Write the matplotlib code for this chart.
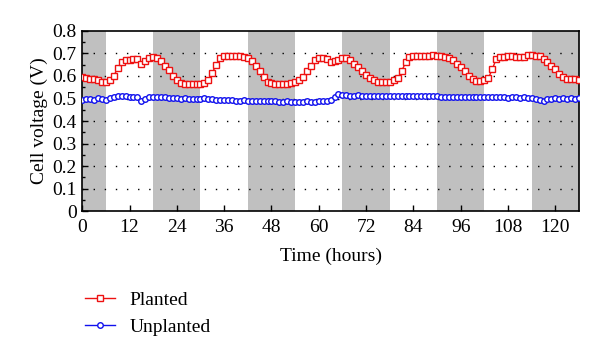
import matplotlib.pyplot as plt
import numpy as np

hours = np.arange(0, 127)

planted = [
    0.595, 0.59, 0.585, 0.585, 0.58, 0.575, 0.575, 0.58, 0.60, 0.635,
    0.66, 0.67, 0.672, 0.675, 0.675, 0.655, 0.665, 0.68, 0.685, 0.68,
    0.665, 0.645, 0.625, 0.60, 0.58, 0.57, 0.565, 0.565, 0.565, 0.565,
    0.565, 0.57, 0.58, 0.615, 0.65, 0.68, 0.69, 0.69, 0.688, 0.688,
    0.688, 0.685, 0.68, 0.665, 0.645, 0.62, 0.595, 0.575, 0.57, 0.565,
    0.565, 0.565, 0.565, 0.57, 0.575, 0.58, 0.595, 0.62, 0.645, 0.67,
    0.68, 0.68, 0.675, 0.66, 0.665, 0.672, 0.68, 0.678, 0.67, 0.655,
    0.64, 0.62, 0.605, 0.59, 0.58, 0.575, 0.575, 0.575, 0.575, 0.58,
    0.59, 0.62, 0.66, 0.685, 0.69, 0.688, 0.69, 0.69, 0.69, 0.692,
    0.69, 0.688, 0.685, 0.68, 0.67, 0.655, 0.64, 0.62, 0.60, 0.585,
    0.578, 0.578, 0.58, 0.59, 0.63, 0.675, 0.685, 0.685, 0.688, 0.688,
    0.685, 0.685, 0.685, 0.695, 0.695, 0.69, 0.688, 0.675, 0.66, 0.645,
    0.63, 0.61, 0.595, 0.588, 0.585, 0.585, 0.583,
]

unplanted = [
    0.495, 0.497, 0.50, 0.495, 0.502, 0.497, 0.495, 0.503, 0.507, 0.51,
    0.512, 0.51, 0.508, 0.508, 0.508, 0.487, 0.497, 0.505, 0.507, 0.505,
    0.505, 0.505, 0.503, 0.503, 0.502, 0.50, 0.503, 0.498, 0.498, 0.50,
    0.497, 0.502, 0.498, 0.497, 0.495, 0.495, 0.494, 0.493, 0.495, 0.49,
    0.49, 0.492, 0.49, 0.488, 0.49, 0.49, 0.487, 0.49, 0.49, 0.488,
    0.485, 0.485, 0.487, 0.485, 0.483, 0.485, 0.485, 0.487, 0.485, 0.483,
    0.487, 0.49, 0.49, 0.495, 0.505, 0.518, 0.515, 0.515, 0.513, 0.513,
    0.515, 0.512, 0.51, 0.513, 0.512, 0.512, 0.51, 0.51, 0.512, 0.513,
    0.51, 0.512, 0.51, 0.512, 0.513, 0.51, 0.51, 0.51, 0.51, 0.51,
    0.51, 0.508, 0.508, 0.508, 0.508, 0.508, 0.508, 0.508, 0.508, 0.508,
    0.508, 0.505, 0.508, 0.508, 0.505, 0.507, 0.505, 0.505, 0.503, 0.505,
    0.505, 0.503, 0.505, 0.502, 0.503, 0.50, 0.495, 0.49, 0.497, 0.50,
    0.502, 0.50, 0.502, 0.50, 0.503, 0.50, 0.502,
]

# dark periods (start, end) in hours
dark = [(0, 6), (18, 30), (42, 54), (66, 78), (90, 102), (114, 126)]

xticks = [0, 12, 24, 36, 48, 60, 72, 84, 96, 108, 120]
yticks = [0, 0.1, 0.2, 0.3, 0.4, 0.5, 0.6, 0.7, 0.8]

plt.rcParams['font.family'] = ['Liberation Serif', 'DejaVu Serif']
plt.rcParams['font.size'] = 14

fig = plt.figure(figsize=(6, 3.64), dpi=100)
ax = fig.add_axes([0.137, 0.42, 0.828, 0.495])

for s, e in dark:
    ax.axvspan(s, e, color='#c0c0c0', lw=0, zorder=0)

for y in yticks[1:-1]:
    ax.axhline(y, color='black', lw=1.0, ls=(0, (1, 7)), zorder=1)

ax.plot(hours, planted, color='#ee1111', marker='s', ms=4, mfc='white',
        mec='#ee1111', mew=1.0, lw=1, label='Planted', zorder=3)
ax.plot(hours, unplanted, color='#1111ee', marker='o', ms=4, mfc='white',
        mec='#1111ee', mew=1.0, lw=1, label='Unplanted', zorder=3)

ax.set_xlim(0, 126)
ax.set_ylim(0, 0.8)
ax.set_xticks(xticks)
ax.set_xticklabels([str(t) for t in xticks])
ax.set_yticks(yticks)
ax.set_yticklabels(['0'] + ['%.1f' % y for y in yticks[1:]])
ax.set_yticks(np.arange(0.05, 0.8, 0.1), minor=True)
ax.tick_params(direction='in', length=4, width=1)
ax.tick_params(axis='x', pad=6)
ax.tick_params(axis='y', pad=4)
ax.tick_params(which='minor', direction='in', length=2, width=1)
for sp in ax.spines.values():
    sp.set_linewidth(1.2)

ax.set_xlabel('Time (hours)', labelpad=8)
ax.set_ylabel('Cell voltage (V)', labelpad=3)

fig.legend(loc='upper left', bbox_to_anchor=(0.112, 0.248), frameon=False,
           handlelength=1.55, handletextpad=0.75, labelspacing=0.5)

fig.savefig('out.png', dpi=100)
